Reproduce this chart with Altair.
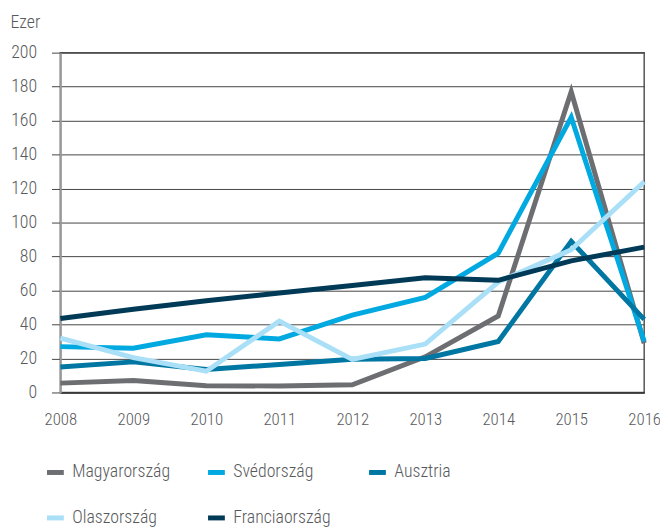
import altair as alt
import pandas as pd

years = [2008, 2009, 2010, 2011, 2012, 2013, 2014, 2015, 2016]
series_names = ["Magyarország", "Svédország", "Ausztria", "Olaszország", "Franciaország"]
magyarorszag = [5.5, 7, 4, 3.8, 4.5, 21, 45, 177, 29]
svedorszag = [27, 26, 34, 31.5, 45.5, 56, 82, 162, 30]
ausztria = [15, 18, 13.5, 16.5, 19.5, 20, 30, 89, 43]
olaszorszag = [32, 20.5, 12.5, 42, 19.5, 28.5, 65, 84, 124]
franciaorszag = [43.5, 49, 54, 58.5, 63, 67.5, 66, 77.5, 85.5]
colors = ["#6d6e71", "#00a9e0", "#0077a2", "#a9dff7", "#003a57"]
y_ticks = [0, 20, 40, 60, 80, 100, 120, 140, 160, 180, 200]

values = [magyarorszag, svedorszag, ausztria, olaszorszag, franciaorszag]
rows = []
for name, vals in zip(series_names, values):
    for yr, v in zip(years, vals):
        rows.append({"year": yr, "value": v, "series": name, "order": series_names.index(name)})
df = pd.DataFrame(rows)

FONT = "Roboto Condensed, Liberation Sans Narrow, DejaVu Sans Condensed, sans-serif"
TXT = "#58595b"

chart = alt.Chart(df).mark_line(strokeWidth=5, strokeJoin="miter", strokeCap="butt").encode(
    x=alt.X("year:Q",
            scale=alt.Scale(domain=[2008, 2016], nice=False, zero=False),
            axis=alt.Axis(values=years, format="d", title=None, grid=False,
                          tickSize=0, labelPadding=19, labelFontSize=17, labelFlush=False,
                          labelColor=TXT, labelFont=FONT, labelFontWeight=300,
                          domainColor="#333333", domainWidth=1.5)),
    y=alt.Y("value:Q",
            scale=alt.Scale(domain=[0, 200], nice=False),
            axis=alt.Axis(values=y_ticks, title="Ezer", titleAngle=0, titleAlign="left",
                          titleBaseline="alphabetic", titleX=-51, titleY=-25,
                          titleFontSize=18, titleFontWeight=300, titleFont=FONT, titleColor=TXT,
                          grid=True, gridColor="#444444", gridWidth=1,
                          tickSize=9, tickColor="#444444", labelPadding=15,
                          labelFontSize=18, labelColor=TXT, labelFont=FONT, labelFontWeight=300,
                          domainColor="#999999", domainWidth=2)),
    color=alt.Color("series:N",
                    scale=alt.Scale(domain=series_names, range=colors),
                    legend=alt.Legend(title=None, orient="none", legendX=-16, legendY=414,
                                      direction="horizontal",
                                      columns=3, gridAlign="all", columnPadding=27,
                                      rowPadding=25, symbolType="stroke", symbolStrokeWidth=5,
                                      symbolSize=289, labelOffset=6, labelFontSize=18,
                                      labelFont=FONT, labelFontWeight=300, labelColor=TXT)),
    order=alt.Order("order:Q"),
    detail="series:N",
).properties(
    width=591, height=344,
    autosize=alt.AutoSizeParams(type="none"),
    padding={"left": 53, "top": 42, "right": 16, "bottom": 134},
).configure_view(stroke="#555555", strokeWidth=1.5)

chart.save("out.html", embed_options={"renderer": "svg", "actions": False})
